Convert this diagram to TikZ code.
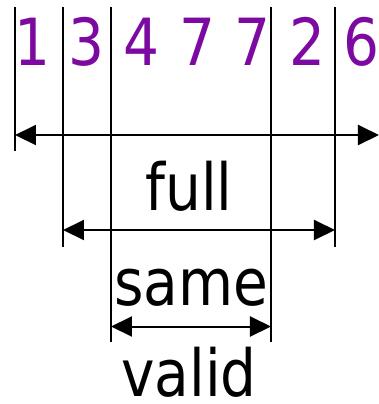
\documentclass[tikz,border=0pt]{standalone}
\usepackage{fontspec}
\setmainfont{DejaVu Sans}[FakeStretch=0.87]
\usetikzlibrary{arrows.meta}
\definecolor{digit}{HTML}{7D0AA0}
\tikzset{
  tick/.style={draw=black, line width=1pt},
  dim/.style={draw=black, line width=1pt, {Triangle[length=10.5pt,width=10pt]}-{Triangle[length=10.5pt,width=10pt]}},
  dig/.style={text=digit, font=\fontsize{32.5}{33}\selectfont, anchor=base, inner sep=0pt},
  lab/.style={text=black, font=\fontsize{32.5}{33}\selectfont, anchor=base, inner sep=0pt, text depth=0pt}
}
\begin{document}
\begin{tikzpicture}[x=0.5pt,y=-0.5pt]
\useasboundingbox (0,0) rectangle (379,404);
% tick coordinates
\coordinate (t1) at (15,7);   \coordinate (b1) at (15,151);
\coordinate (t2) at (63,7);   \coordinate (b2) at (63,247);
\coordinate (t3) at (111,7);  \coordinate (b3) at (111,342);
\coordinate (t4) at (271,7);  \coordinate (b4) at (271,342);
\coordinate (t5) at (335,7);  \coordinate (b5) at (335,247);
\draw[tick] (t1) -- (b1);
\draw[tick] (t2) -- (b2);
\draw[tick] (t3) -- (b3);
\draw[tick] (t4) -- (b4);
\draw[tick] (t5) -- (b5);
% digits
\node[dig] (d1) at (32,65) {1};
\node[dig] (d2) at (86,65) {3};
\node[dig] (d3) at (141,65) {4};
\node[dig] (d4) at (197,65) {7};
\node[dig] (d5) at (252,65) {7};
\node[dig] (d6) at (307,65) {2};
\node[dig] (d7) at (361,65) {6};
% dimension arrows
\coordinate (fl) at (15,135);  \coordinate (fr) at (379,135);
\coordinate (ul) at (63,230);  \coordinate (ur) at (335,230);
\coordinate (sl) at (111,326.5); \coordinate (sr) at (271,326.5);
\draw[dim] (fl) -- (fr);
\draw[dim] (ul) -- (ur);
\draw[dim] (sl) -- (sr);
% labels
\node[lab] (full) at (189,210) {full};
\node[lab] (same) at (191,305) {same};
\node[lab] (valid) at (189,396) {valid};
\end{tikzpicture}
\end{document}
